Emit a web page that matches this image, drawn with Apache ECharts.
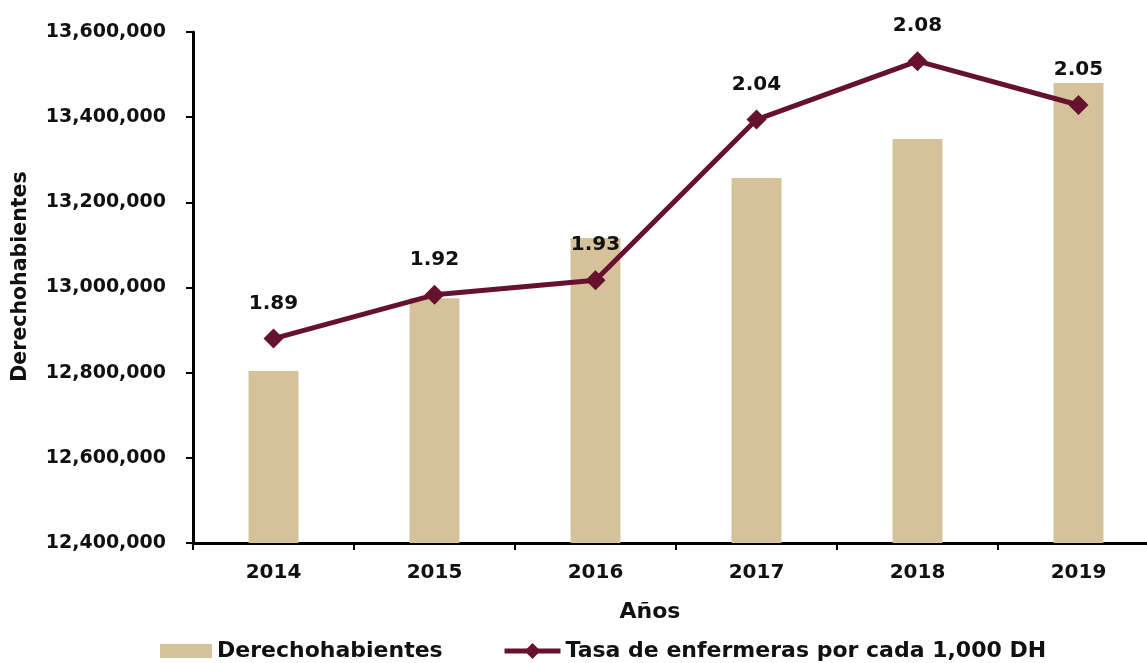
<!DOCTYPE html>
<html>
<head>
<meta charset="utf-8">
<script src="https://cdn.jsdelivr.net/npm/echarts@6/dist/echarts.min.js"></script>
<style>
  html, body { margin: 0; padding: 0; background: #fff; }
  #chart { width: 1147px; height: 663px; }
</style>
</head>
<body>
<div id="chart"></div>
<script>
// Años
const years = ['2014', '2015', '2016', '2017', '2018', '2019'];
// Derechohabientes por año
const derechohabientes = [12804000, 12975000, 13116000, 13257000, 13349000, 13480000];
// Tasa de enfermeras por cada 1,000 DH
const tasaEnfermeras = [1.89, 1.92, 1.93, 2.04, 2.08, 2.05];

const FONT = '"DejaVu Sans", "Noto Sans", sans-serif';
const BAR_COLOR = '#d5c19a';
const LINE_COLOR = '#66122f';
const TEXT_COLOR = '#111';
const BAR_NAME = 'Derechohabientes';
const LINE_NAME = 'Tasa de enfermeras por cada 1,000 DH';

const legendText = { fontFamily: FONT, fontWeight: 'bold', fontSize: 22, color: TEXT_COLOR };

const chart = echarts.init(document.getElementById('chart'), null, { renderer: 'canvas' });

chart.setOption({
  animation: false,
  textStyle: { fontFamily: FONT },
  grid: {
    left: 193, right: -12, top: 32, bottom: 120,
    containLabel: false,
    outerBoundsMode: 'none'
  },
  legend: [
    {
      top: 635,
      left: 155,
      itemWidth: 52,
      itemHeight: 14,
      textStyle: legendText,
      data: [{ name: BAR_NAME, icon: 'rect' }]
    },
    {
      top: 635,
      left: 497,
      itemWidth: 56,
      itemHeight: 20,
      textStyle: legendText,
      data: [{ name: LINE_NAME }],
      lineStyle: { width: 5 }
    }
  ],
  xAxis: {
    type: 'category',
    data: years,
    name: 'Años',
    nameLocation: 'middle',
    nameGap: 58,
    nameTextStyle: {
      fontFamily: FONT, fontWeight: 'bold', fontSize: 22, color: TEXT_COLOR,
      padding: [0, 52, 0, 0]
    },
    axisLine: { lineStyle: { color: '#000', width: 3 } },
    axisTick: { show: true, length: 7, lineStyle: { color: '#000', width: 2 } },
    axisLabel: { fontFamily: FONT, fontWeight: 'bold', fontSize: 20, color: TEXT_COLOR, margin: 20 }
  },
  yAxis: [
    {
      type: 'value',
      min: 12400000,
      max: 13600000,
      interval: 200000,
      name: BAR_NAME,
      nameLocation: 'middle',
      nameGap: 162,
      nameRotate: 90,
      nameTextStyle: {
        fontFamily: FONT, fontWeight: 'bold', fontSize: 20.5, color: TEXT_COLOR,
        padding: [0, 0, 0, 22]
      },
      splitLine: { show: false },
      axisLine: { show: true, lineStyle: { color: '#000', width: 3 } },
      axisTick: { show: true, length: 7, lineStyle: { color: '#000', width: 2 } },
      axisLabel: {
        fontFamily: FONT, fontWeight: 'bold', fontSize: 19, color: TEXT_COLOR, margin: 27,
        formatter: v => v.toLocaleString('en-US')
      }
    },
    {
      type: 'value',
      min: 1.75,
      max: 2.1,
      show: false,
      splitLine: { show: false }
    }
  ],
  series: [
    {
      name: BAR_NAME,
      type: 'bar',
      data: derechohabientes,
      barWidth: '31%',
      itemStyle: { color: BAR_COLOR },
      yAxisIndex: 0
    },
    {
      name: LINE_NAME,
      type: 'line',
      yAxisIndex: 1,
      data: tasaEnfermeras,
      symbol: 'diamond',
      symbolSize: 20,
      lineStyle: { color: LINE_COLOR, width: 5 },
      itemStyle: { color: LINE_COLOR },
      label: {
        show: true,
        position: 'top',
        distance: 15,
        fontFamily: FONT,
        fontWeight: 'bold',
        fontSize: 20,
        color: TEXT_COLOR,
        formatter: p => p.value.toFixed(2)
      }
    }
  ]
});
</script>
</body>
</html>
